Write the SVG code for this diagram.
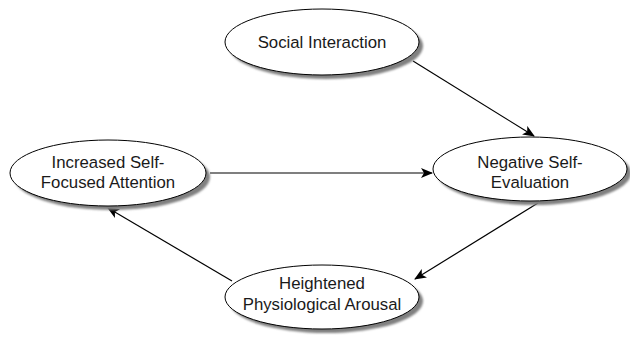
<svg xmlns="http://www.w3.org/2000/svg" width="630" height="337" viewBox="0 0 630 337">
<defs>
<style>
.shadow{fill:#808080;stroke:none}
.node{fill:#fff;stroke:#000;stroke-width:1}
.lbl{font-family:"Liberation Sans",Arial,sans-serif;font-size:16.8px;fill:#1a1a1a;text-anchor:middle}
.edge{stroke:#000;stroke-width:1.2;fill:none;marker-end:url(#ah)}
</style>
<marker id="ah" viewBox="0 0 12 10" refX="11" refY="5" markerWidth="12" markerHeight="10" markerUnits="userSpaceOnUse" orient="auto">
<path d="M0,0 L12,5 L0,10 L3,5 Z" fill="#000"/>
</marker>
<filter id="blur" x="-10%" y="-10%" width="120%" height="130%"><feGaussianBlur stdDeviation="1.2"/></filter>
</defs>
<rect width="630" height="337" fill="#fff"/>
<g id="connectors">
<line class="edge" x1="413" y1="61" x2="534" y2="136"/>
<line class="edge" x1="210" y1="173" x2="432" y2="173"/>
<line class="edge" x1="538" y1="203" x2="415" y2="279"/>
<line class="edge" x1="232" y1="281" x2="108" y2="208"/>
</g>
<g id="social">
<ellipse class="shadow" cx="326" cy="46" rx="97" ry="33" filter="url(#blur)"/>
<ellipse class="node" cx="322" cy="42" rx="97" ry="33"/>
<text class="lbl" x="322" y="48">Social Interaction</text>
</g>
<g id="increased">
<ellipse class="shadow" cx="112" cy="177" rx="98" ry="33" filter="url(#blur)"/>
<ellipse class="node" cx="108" cy="173" rx="98" ry="33"/>
<text class="lbl" x="108" y="168">Increased Self-</text>
<text class="lbl" x="108" y="188">Focused Attention</text>
</g>
<g id="negative">
<ellipse class="shadow" cx="534" cy="173" rx="97" ry="32" filter="url(#blur)"/>
<ellipse class="node" cx="530" cy="169" rx="97" ry="32"/>
<text class="lbl" x="530" y="168">Negative Self-</text>
<text class="lbl" x="530" y="188">Evaluation</text>
</g>
<g id="heightened">
<ellipse class="shadow" cx="326" cy="301" rx="97" ry="32" filter="url(#blur)"/>
<ellipse class="node" cx="322" cy="297" rx="97" ry="32"/>
<text class="lbl" x="322" y="289">Heightened</text>
<text class="lbl" x="322" y="310">Physiological Arousal</text>
</g>
</svg>
